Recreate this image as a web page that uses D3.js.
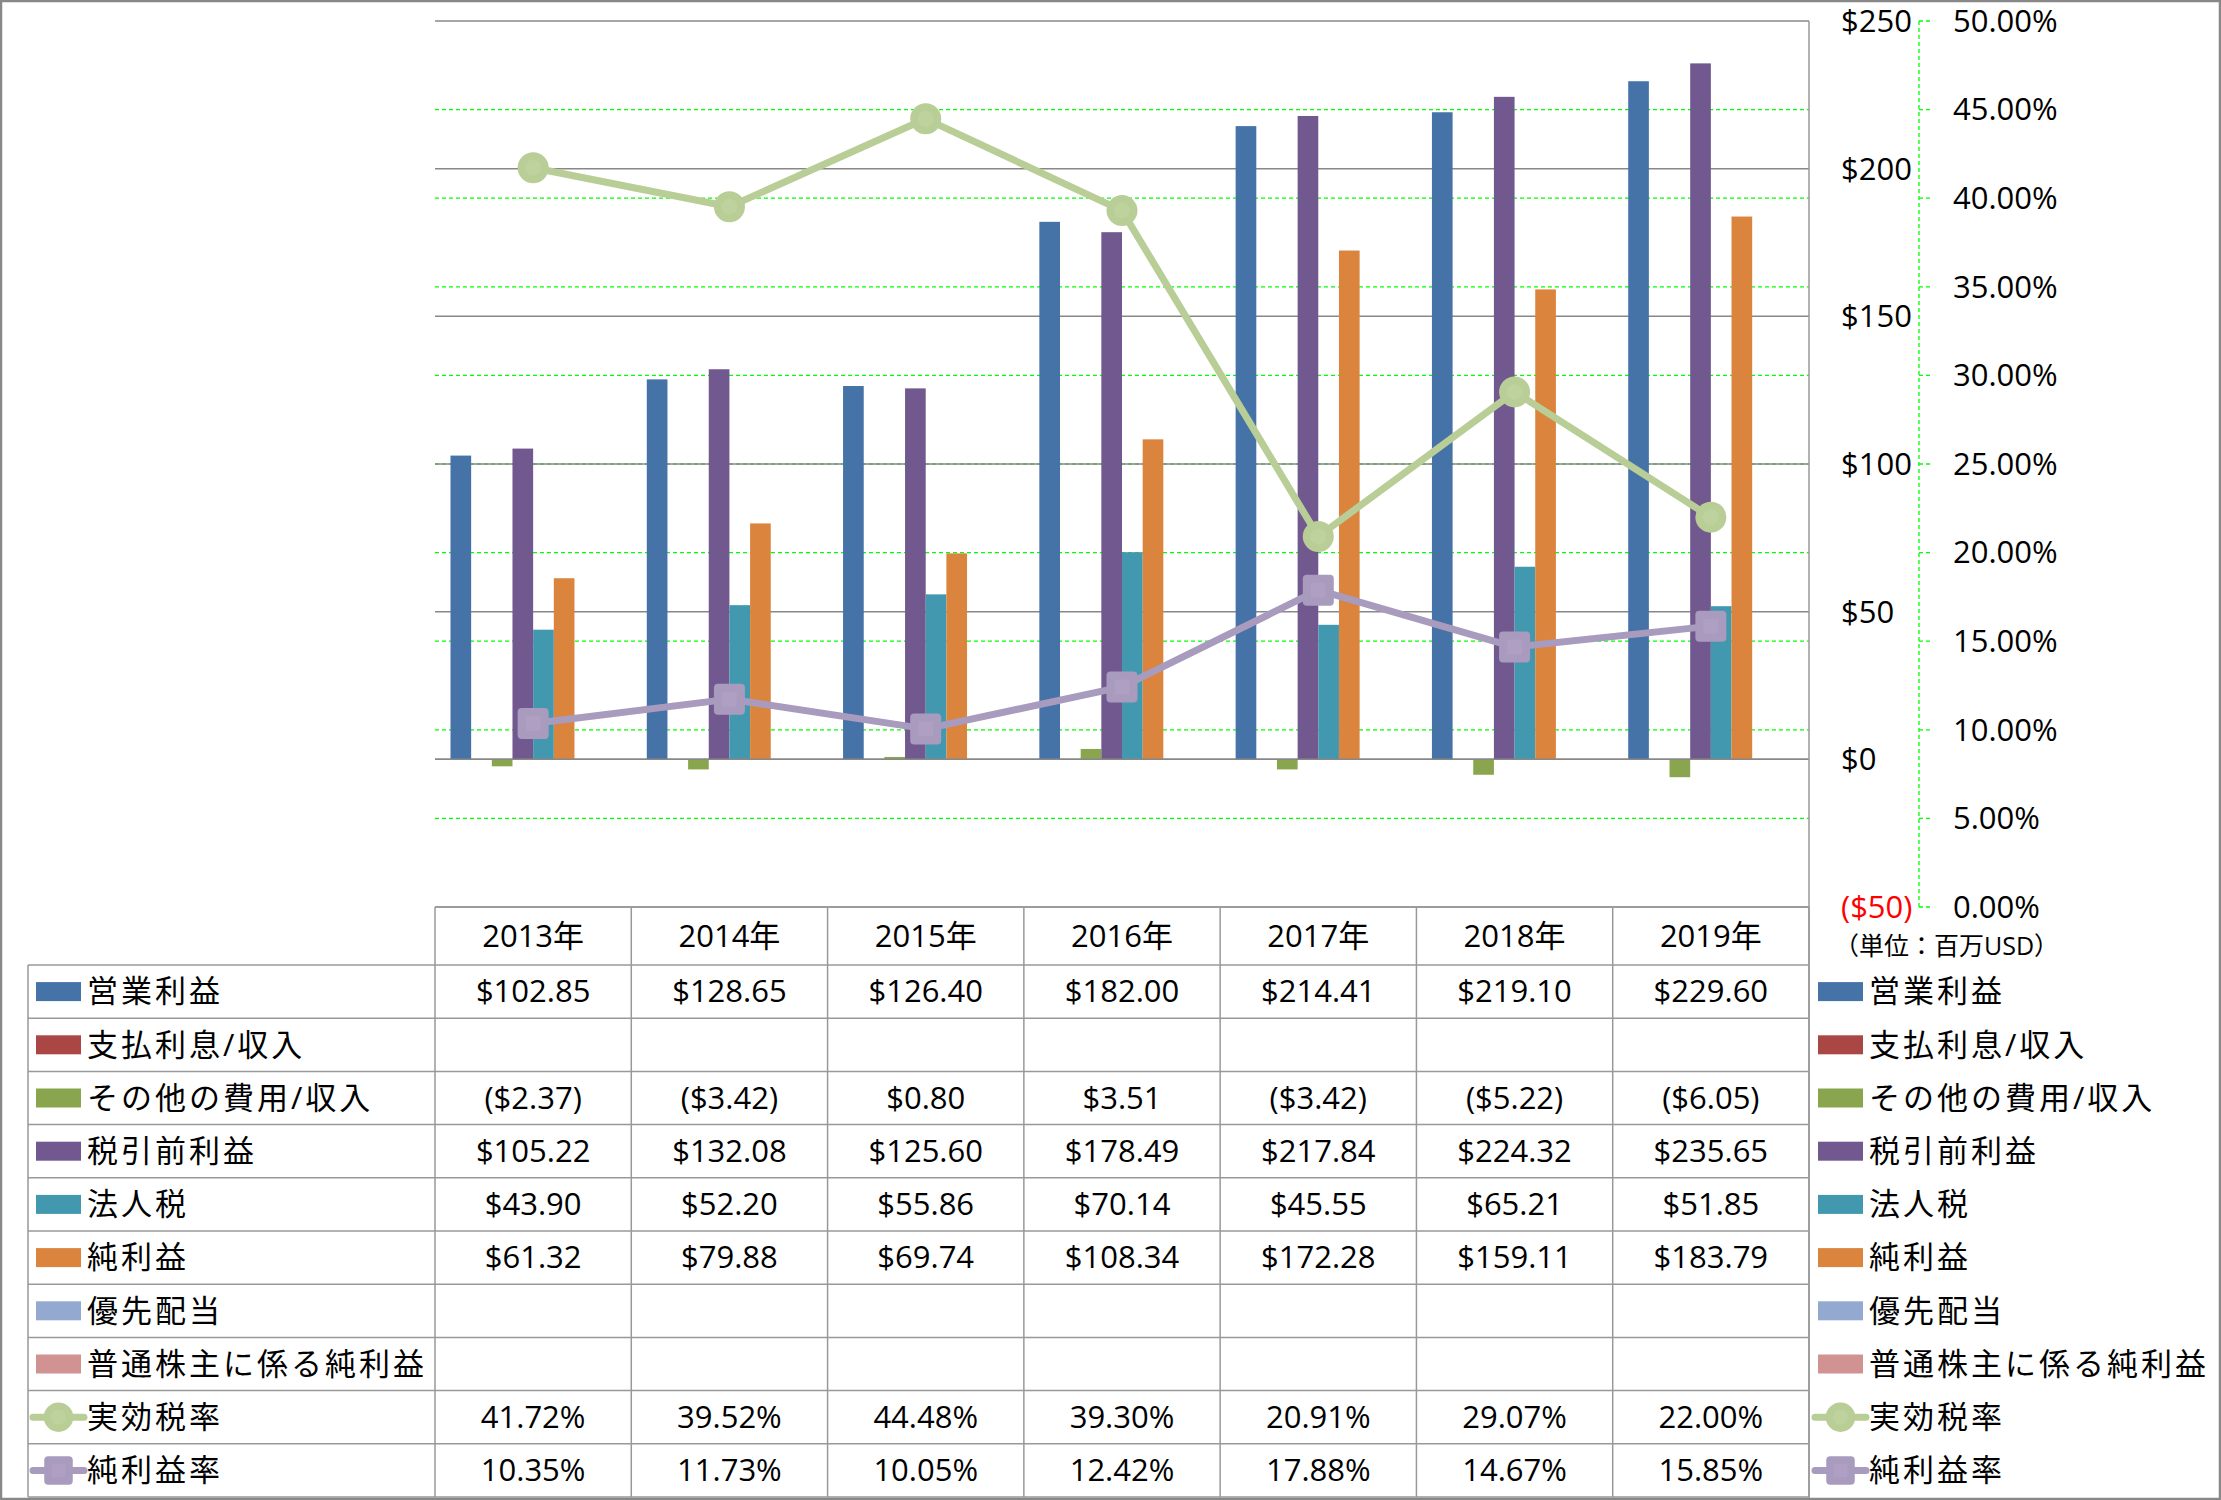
<!DOCTYPE html>
<html>
<head>
<meta charset="utf-8">
<script src="https://cdn.jsdelivr.net/npm/d3@7"></script>
<style>
  html, body { margin: 0; padding: 0; background: #fff; }
  svg text { font-family: 'Open Sans', 'Noto Sans CJK JP', sans-serif; fill: #000; }
</style>
</head>
<body>
<svg id="chart" width="2221" height="1500"></svg>
<script>
// ---------------- data ----------------
const years = ["2013年", "2014年", "2015年", "2016年", "2017年", "2018年", "2019年"];
const barSeriesNames = ["営業利益", "支払利息/収入", "その他の費用/収入", "税引前利益", "法人税", "純利益", "優先配当", "普通株主に係る純利益"];
const operatingIncome = [102.85, 128.65, 126.40, 182.00, 214.41, 219.10, 229.60];
const interestExpense = [null, null, null, null, null, null, null];
const otherExpense = [-2.37, -3.42, 0.80, 3.51, -3.42, -5.22, -6.05];
const preTaxIncome = [105.22, 132.08, 125.60, 178.49, 217.84, 224.32, 235.65];
const incomeTax = [43.90, 52.20, 55.86, 70.14, 45.55, 65.21, 51.85];
const netIncome = [61.32, 79.88, 69.74, 108.34, 172.28, 159.11, 183.79];
const preferredDividends = [null, null, null, null, null, null, null];
const netIncomeCommon = [null, null, null, null, null, null, null];
const lineSeriesNames = ["実効税率", "純利益率"];
const effectiveTaxRate = [41.72, 39.52, 44.48, 39.30, 20.91, 29.07, 22.00];
const netMargin = [10.35, 11.73, 10.05, 12.42, 17.88, 14.67, 15.85];
const dollarTicks = [-50, 0, 50, 100, 150, 200, 250];
const percentTicks = [0, 5, 10, 15, 20, 25, 30, 35, 40, 45, 50];
const unitLabel = "（単位：百万USD）";

// ---------------- styles ----------------
const barColors = ["#4572A7", "#AA4643", "#89A54E", "#71588F", "#4198AF", "#DB843D", "#93A9CF", "#D19392"];
const lineColors = ["#B9CD96", "#A99BBD"];
const lineInner = ["#BDD29C", "#AE9FC3"];

const barValues = [operatingIncome, interestExpense, otherExpense, preTaxIncome, incomeTax, netIncome, preferredDividends, netIncomeCommon];
const lineValues = [effectiveTaxRate, netMargin];

const svg = d3.select("#chart");
const W = 2221, H = 1500;
const plotL = 435, plotR = 1809, plotT = 21, plotB = 907;
const tableL = 28, headerB = 965, rowH = 53.2;
const FS = 31;

const x = d3.scaleBand().domain(years).range([plotL, plotR]).paddingInner(0).paddingOuter(0);
const xs = d3.scaleBand().domain(barSeriesNames).range([0, x.bandwidth()]).paddingInner(0).paddingOuter(0.75);
const yL = d3.scaleLinear().domain([-50, 250]).range([plotB, plotT]);
const yR = d3.scaleLinear().domain([0, 50]).range([plotB, plotT]);

// background
svg.append("rect").attr("x", 0).attr("y", 0).attr("width", W).attr("height", H).attr("fill", "#fff");

// percent gridlines (green dashed)
const gGrid = svg.append("g");
gGrid.selectAll("line.pg").data(percentTicks.filter(d => d > 0 && d < 50)).join("line")
  .attr("x1", plotL).attr("x2", plotR)
  .attr("y1", d => yR(d)).attr("y2", d => yR(d))
  .attr("stroke", "#00FF00").attr("stroke-width", 1.3).attr("stroke-dasharray", "4,3");
// dollar gridlines (gray)
gGrid.selectAll("line.dg").data(dollarTicks).join("line")
  .attr("x1", plotL).attr("x2", plotR)
  .attr("y1", d => yL(d)).attr("y2", d => yL(d))
  .attr("stroke", "#888").attr("stroke-width", 1.5);

// bars
const gBars = svg.append("g");
barSeriesNames.forEach((name, si) => {
  const vals = barValues[si];
  gBars.selectAll(null).data(years.map((yr, i) => ({ yr, v: vals[i] })).filter(d => d.v !== null)).join("rect")
    .attr("x", d => x(d.yr) + xs(name))
    .attr("width", xs.bandwidth())
    .attr("y", d => Math.min(yL(d.v), yL(0)))
    .attr("height", d => Math.abs(yL(d.v) - yL(0)))
    .attr("fill", barColors[si]);
});
// zero line over bar bottoms
svg.append("line").attr("x1", plotL).attr("x2", plotR).attr("y1", yL(0)).attr("y2", yL(0))
  .attr("stroke", "#888").attr("stroke-width", 1.5);

// lines
const cx = d => x(d) + x.bandwidth() / 2;
const gLines = svg.append("g");
lineValues.forEach((vals, li) => {
  const pts = years.map((yr, i) => [cx(yr), yR(vals[i])]);
  gLines.append("path").attr("d", d3.line()(pts)).attr("fill", "none")
    .attr("stroke", lineColors[li]).attr("stroke-width", 7).attr("stroke-linejoin", "round");
  pts.forEach(p => drawMarker(gLines, li, p[0], p[1], 1));
});

function drawMarker(g, li, px, py, s) {
  if (li === 0) {
    g.append("circle").attr("cx", px).attr("cy", py).attr("r", 15.5 * s).attr("fill", lineColors[0]);
    g.append("circle").attr("cx", px).attr("cy", py).attr("r", 8 * s).attr("fill", lineInner[0]);
  } else {
    const h = 15.5 * s;
    g.append("rect").attr("x", px - h).attr("y", py - h).attr("width", 2 * h).attr("height", 2 * h)
      .attr("rx", 4).attr("fill", lineColors[1]);
    g.append("rect").attr("x", px - 7.5 * s).attr("y", py - 7.5 * s).attr("width", 15 * s).attr("height", 15 * s)
      .attr("fill", lineInner[1]);
  }
}

// plot right border
svg.append("line").attr("x1", plotR).attr("x2", plotR).attr("y1", plotT).attr("y2", H - 2)
  .attr("stroke", "#999").attr("stroke-width", 1.5);

// dollar axis labels
const axX = 1841;
svg.append("g").selectAll("text").data(dollarTicks).join("text")
  .attr("x", axX).attr("y", d => yL(d)).attr("dy", "0.35em")
  .attr("font-size", FS)
  .style("fill", d => d < 0 ? "#FF0000" : "#000")
  .text(d => d < 0 ? "($" + Math.abs(d) + ")" : "$" + d);

// percent axis (green dashed)
const pAxX = 1919;
svg.append("line").attr("x1", pAxX).attr("x2", pAxX).attr("y1", plotT).attr("y2", plotB)
  .attr("stroke", "#00FF00").attr("stroke-width", 1.3).attr("stroke-dasharray", "4,3");
svg.append("g").selectAll("line").data(percentTicks).join("line")
  .attr("x1", pAxX).attr("x2", pAxX + 12).attr("y1", d => yR(d)).attr("y2", d => yR(d))
  .attr("stroke", "#00FF00").attr("stroke-width", 1.3).attr("stroke-dasharray", "4,3");
svg.append("g").selectAll("text").data(percentTicks).join("text")
  .attr("x", 1953).attr("y", d => yR(d)).attr("dy", "0.35em")
  .attr("font-size", FS)
  .text(d => d.toFixed(2) + "%");

// unit label
svg.append("text").attr("x", 1834).attr("y", 946).attr("dy", "0.36em")
  .attr("font-size", 25).text(unitLabel);

// ---------------- data table ----------------
const fmtDollar = v => v === null ? "" : (v < 0 ? "($" + Math.abs(v).toFixed(2) + ")" : "$" + v.toFixed(2));
const fmtPct = v => v === null ? "" : v.toFixed(2) + "%";
const rows = barSeriesNames.map((n, i) => ({ name: n, kind: "bar", idx: i, vals: barValues[i], fmt: fmtDollar }))
  .concat(lineSeriesNames.map((n, i) => ({ name: n, kind: "line", idx: i, vals: lineValues[i], fmt: fmtPct })));

const gT = svg.append("g");
const borderC = "#999";
// header
gT.append("line").attr("x1", plotL).attr("x2", plotR).attr("y1", plotB).attr("y2", plotB)
  .attr("stroke", borderC).attr("stroke-width", 1.5);
gT.selectAll("text.hdr").data(years).join("text")
  .attr("x", d => cx(d)).attr("y", (plotB + headerB) / 2).attr("dy", "0.35em")
  .attr("text-anchor", "middle").attr("font-size", FS).text(d => d);
// horizontal lines
d3.range(rows.length + 1).forEach(i => {
  const yy = headerB + i * rowH;
  gT.append("line").attr("x1", tableL).attr("x2", plotR).attr("y1", yy).attr("y2", yy)
    .attr("stroke", borderC).attr("stroke-width", 1.5);
});
const tableB = headerB + rows.length * rowH;
// vertical lines
gT.append("line").attr("x1", tableL).attr("x2", tableL).attr("y1", headerB).attr("y2", tableB)
  .attr("stroke", borderC).attr("stroke-width", 1.5);
x.domain().concat(["_end"]).forEach((yr, i) => {
  const xx = i < years.length ? x(yr) : plotR;
  gT.append("line").attr("x1", xx).attr("x2", xx).attr("y1", plotB).attr("y2", tableB)
    .attr("stroke", borderC).attr("stroke-width", 1.5);
});

function legendKey(g, r, x0, yc) {
  if (r.kind === "bar") {
    g.append("rect").attr("x", x0).attr("y", yc - 9.5).attr("width", 45).attr("height", 19).attr("fill", barColors[r.idx]);
  } else {
    g.append("line").attr("x1", x0 - 3).attr("x2", x0 + 48).attr("y1", yc).attr("y2", yc)
      .attr("stroke", lineColors[r.idx]).attr("stroke-width", 7).attr("stroke-linecap", "round");
    drawMarker(g, r.idx, x0 + 22.5, yc, r.idx === 0 ? 0.95 : 0.92);
  }
}

rows.forEach((r, i) => {
  const yc = headerB + i * rowH + rowH / 2;
  // left legend
  legendKey(gT, r, 36, yc);
  gT.append("text").attr("x", 87).attr("y", yc).attr("dy", "0.35em")
    .attr("font-size", FS).attr("letter-spacing", 3).text(r.name);
  // values
  years.forEach((yr, j) => {
    gT.append("text").attr("x", cx(yr)).attr("y", yc).attr("dy", "0.35em")
      .attr("text-anchor", "middle").attr("font-size", FS).text(r.fmt(r.vals[j]));
  });
  // right legend
  legendKey(gT, r, 1818, yc);
  gT.append("text").attr("x", 1869).attr("y", yc).attr("dy", "0.35em")
    .attr("font-size", FS).attr("letter-spacing", 3).text(r.name);
});

// outer border
svg.append("rect").attr("x", 1).attr("y", 1).attr("width", W - 2).attr("height", H - 2)
  .attr("fill", "none").attr("stroke", "#888").attr("stroke-width", 2.5);
</script>
</body>
</html>
